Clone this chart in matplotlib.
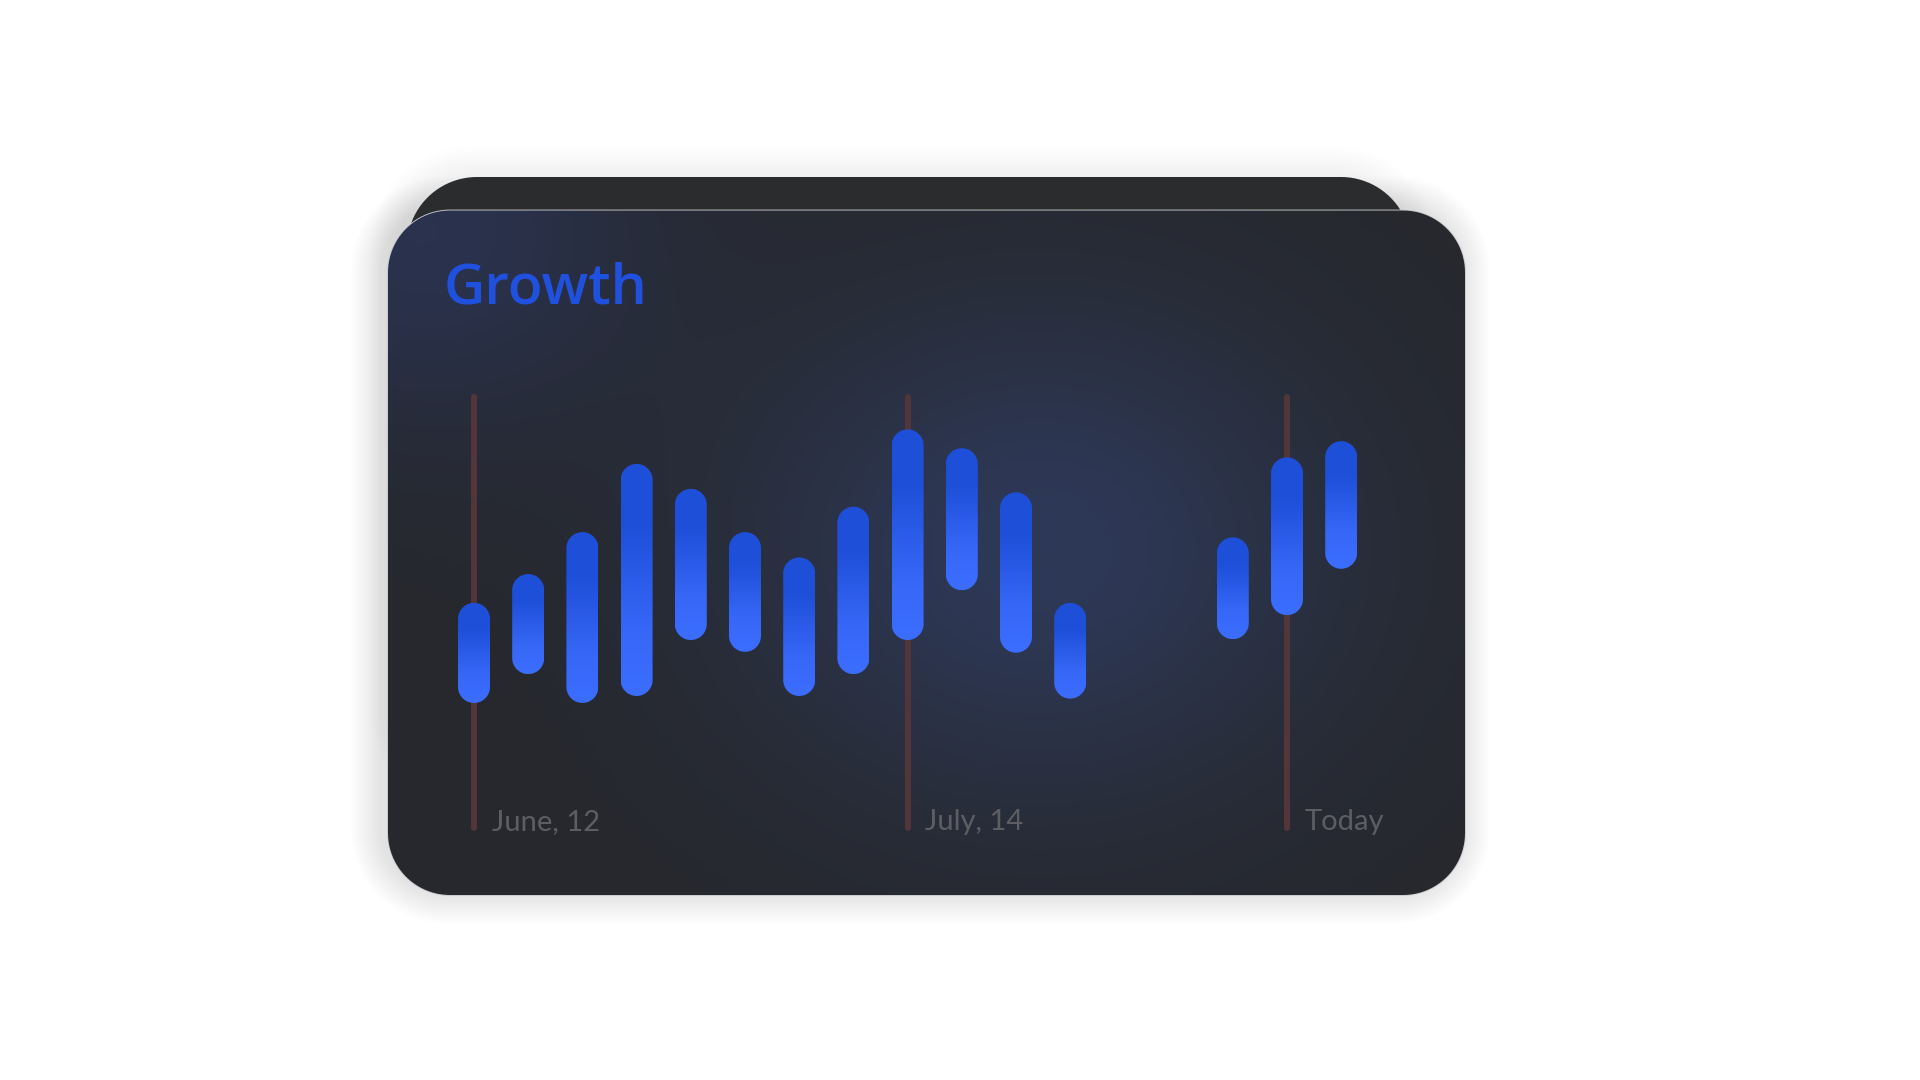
import numpy as np
import matplotlib
matplotlib.use("Agg")
import matplotlib.pyplot as plt
from matplotlib.patches import Polygon
from matplotlib.colors import LinearSegmentedColormap

# candles: slot index, low, high (value units, 0 = foot of the date lines, 100 = top)
slots = [0, 1, 2, 3, 4, 5, 6, 7, 8, 9, 10, 11, 14, 15, 16]
lows = [29.3, 35.9, 29.3, 30.9, 43.7, 41.0, 30.9, 35.9, 43.7, 55.1, 40.8, 30.3, 43.9, 49.4, 60.0]
highs = [52.2, 58.8, 68.4, 84.0, 78.3, 68.4, 62.6, 74.2, 91.9, 87.6, 77.5, 52.2, 67.2, 85.5, 89.2]

marker_slots = [0, 8, 15]
marker_labels = ["June, 12", "July, 14", "Today"]

title = "Growth"


def round_rect(x0, y0, x1, y1, rx, ry, n=24):
    # closed outline with true elliptic corners
    pts = []
    corners = [(x1 - rx, y1 - ry, 0), (x0 + rx, y1 - ry, 90),
               (x0 + rx, y0 + ry, 180), (x1 - rx, y0 + ry, 270)]
    for cx, cy, a0 in corners:
        t = np.radians(np.linspace(a0, a0 + 90, n))
        pts += list(zip(cx + rx * np.cos(t), cy + ry * np.sin(t)))
    return np.array(pts)


W, H = 1920, 1080
fig = plt.figure(figsize=(W / 100, H / 100), dpi=100)
fig.patch.set_facecolor("white")

# pixel axes for the card decoration
bg = fig.add_axes([0, 0, 1, 1])
bg.set_xlim(0, W)
bg.set_ylim(H, 0)
bg.axis("off")

front = (388, 210.5, 1465, 895, 62)
back = (407, 177, 1411, 780, 70)

# soft shadow
for (x0, y0, x1, y1, r), a, dy in [(back, 0.0045, 0), (front, 0.009, -3)]:
    for k in range(1, 15):
        p = 2.2 * k
        bg.add_patch(Polygon(round_rect(x0 - p - 6, y0 - p + dy, x1 + p - 6, y1 + p + dy, r + p, r + p),
                             closed=True, fc="black", ec="none", alpha=a, zorder=1))

x0, y0, x1, y1, r = back
bg.add_patch(Polygon(round_rect(x0, y0, x1, y1, r, r), closed=True,
                     fc="#2b2c2e", ec="none", zorder=2))

x0, y0, x1, y1, r = front
card = Polygon(round_rect(x0, y0, x1, y1, r, r), closed=True,
               fc="#27292e", ec="#c9cacc", lw=1.3, zorder=3)
bg.add_patch(card)

# background glow of the card
gy, gx = np.mgrid[y0:y1:300j, x0:x1:480j]
base = np.array([0x26, 0x28, 0x2d]) / 255
c1 = np.array([0x2e, 0x39, 0x58]) / 255
c2 = np.array([0x2a, 0x32, 0x4e]) / 255
w1 = np.exp(-((gx - 1040) / 300) ** 2 - ((gy - 550) / 250) ** 2)
w2 = np.exp(-((gx - 420) / 230) ** 2 - ((gy - 230) / 200) ** 2)
img = base + w1[..., None] * (c1 - base) + w2[..., None] * (c2 - base)
im = bg.imshow(np.clip(img, 0, 1), extent=(x0, x1, y1, y0), origin="upper",
               aspect="auto", zorder=3.5, interpolation="bilinear")
im.set_clip_path(card)
bg.set_xlim(0, W)
bg.set_ylim(H, 0)

bg.text(444, 304, title, fontsize=41, color="#1f51de", fontfamily="Open Sans",
        fontweight="semibold", va="baseline", ha="left", zorder=5)

# chart axes
slot_px = 54.2
left_px = 474 - slot_px
bot_px = H - 831
ax_w = slot_px * 18
ax_h = 831 - 394
ax = fig.add_axes([left_px / W, bot_px / H, ax_w / W, ax_h / H])
ax.patch.set_alpha(0)
ax.axis("off")

for s in marker_slots:
    ax.plot([s, s], [0.7, 99.3], color="#533639", lw=4.3, solid_capstyle="round", zorder=1)
for s, lab in zip(marker_slots, marker_labels):
    ax.annotate(lab, xy=(s, 0.3), xytext=(17.5, 0), textcoords="offset pixels",
                fontsize=21, color="#5d5e63", fontfamily="Lato", fontweight="normal",
                va="baseline", ha="left")

cmap = LinearSegmentedColormap.from_list("bar", [(0, "#1e4fd8"), (0.28, "#1f50da"),
                                                  (0.72, "#3767f6"), (1, "#3b6dff")])
hw = 16 / slot_px
ry = 16 / (ax_h / 100)
grad = np.linspace(0, 1, 200).reshape(-1, 1)
for s, lo, hi in zip(slots, lows, highs):
    pill = Polygon(round_rect(s - hw, lo, s + hw, hi, hw, ry), closed=True,
                   fc="none", ec="none")
    ax.add_patch(pill)
    g = ax.imshow(grad, cmap=cmap, extent=(s - hw, s + hw, lo, hi), origin="upper",
                  aspect="auto", zorder=2, interpolation="bilinear")
    g.set_clip_path(pill)

ax.set_xlim(-1, 17)
ax.set_ylim(0, 100)

fig.savefig("out.png", dpi=100, facecolor="white")
